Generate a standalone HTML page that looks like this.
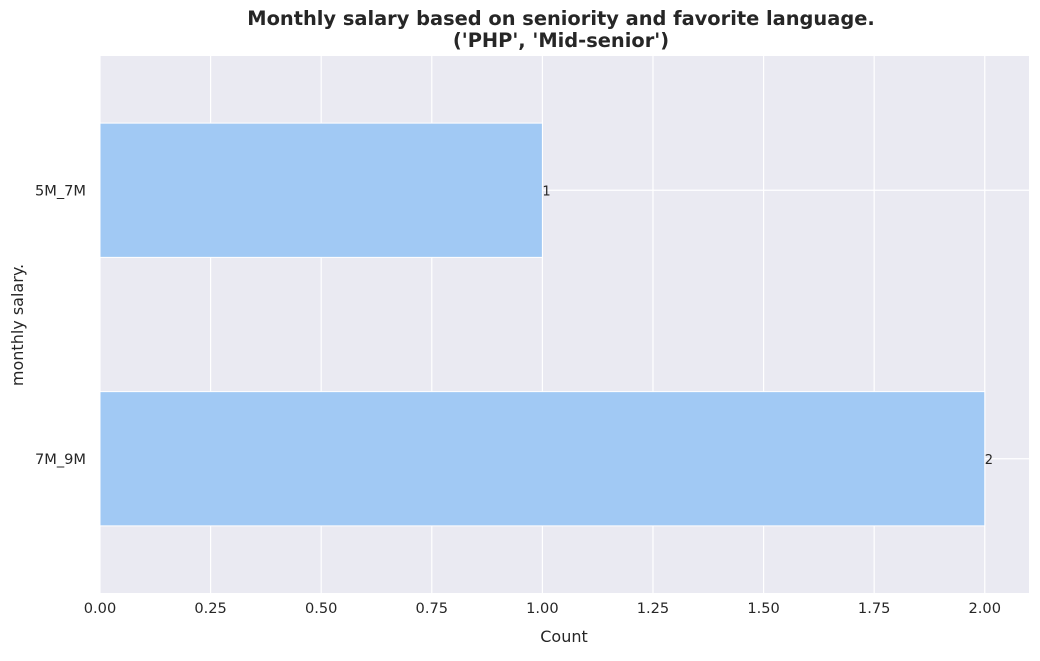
<!DOCTYPE html>
<html><head><meta charset="utf-8"><style>
body{margin:0;background:#fff;font-family:"Liberation Sans","DejaVu Sans",sans-serif;}
svg text{font-family:"DejaVu Sans","Liberation Sans",sans-serif;fill:#262626;}
</style></head><body>
<svg id="chart" width="1040" height="656" xmlns="http://www.w3.org/2000/svg">
<text x="561" y="25" text-anchor="middle" font-size="19.4" font-weight="bold">Monthly salary based on seniority and favorite language.</text>
<text x="561" y="47" text-anchor="middle" font-size="19.4" font-weight="bold">('PHP', 'Mid-senior')</text>
<rect x="100" y="56" width="929" height="537" fill="#eaeaf2"/>
<g id="grid"></g><g id="bars"></g><g id="ticks"></g>
<text x="564" y="642" text-anchor="middle" font-size="16">Count</text>
<text transform="translate(23,325) rotate(-90)" text-anchor="middle" font-size="16">monthly salary.</text>
</svg>
<script>
const categories=["5M_7M","7M_9M"];
const counts=[1,2];
const xTicks=[0,0.25,0.5,0.75,1.0,1.25,1.5,1.75,2.0];
const NS="http://www.w3.org/2000/svg";
const L=100,R=1029,T=56,B=593,xMax=2.1;
const x=v=>L+(v/xMax)*(R-L);
const step=(B-T)/categories.length;
const y=i=>T+step*(i+0.5);
function mk(tag,attrs,parent,text){const e=document.createElementNS(NS,tag);for(const k in attrs)e.setAttribute(k,attrs[k]);if(text!==undefined)e.textContent=text;parent.appendChild(e);return e;}
const grid=document.getElementById('grid'),bars=document.getElementById('bars'),ticks=document.getElementById('ticks');
xTicks.forEach(t=>{
 const l=mk('line',{x1:x(t),x2:x(t),y1:T,y2:B,stroke:'#fff','stroke-width':1.2},grid);
 
 
 const tx=mk('text',{x:x(t),y:B+20,'text-anchor':'middle','font-size':14.6},ticks,t.toFixed(2));
 
 
});
categories.forEach((c,i)=>{
 const l=mk('line',{x1:L,x2:R,y1:y(i),y2:y(i),stroke:'#fff','stroke-width':1.2},grid);
 
 
 const h=step*0.5;
 const r=mk('rect',{x:x(0),y:y(i)-h/2,width:x(counts[i])-x(0),height:h,fill:'#a1c9f4',stroke:'#fff','stroke-width':1},bars);
 
 
 const v=mk('text',{x:x(counts[i]),y:y(i)+5,'font-size':13},bars,String(counts[i]));
 
 
 const tl=mk('text',{x:L-14,y:y(i)+5,'text-anchor':'end','font-size':14.6},ticks,c);
 
 
});
</script>
</body></html>
